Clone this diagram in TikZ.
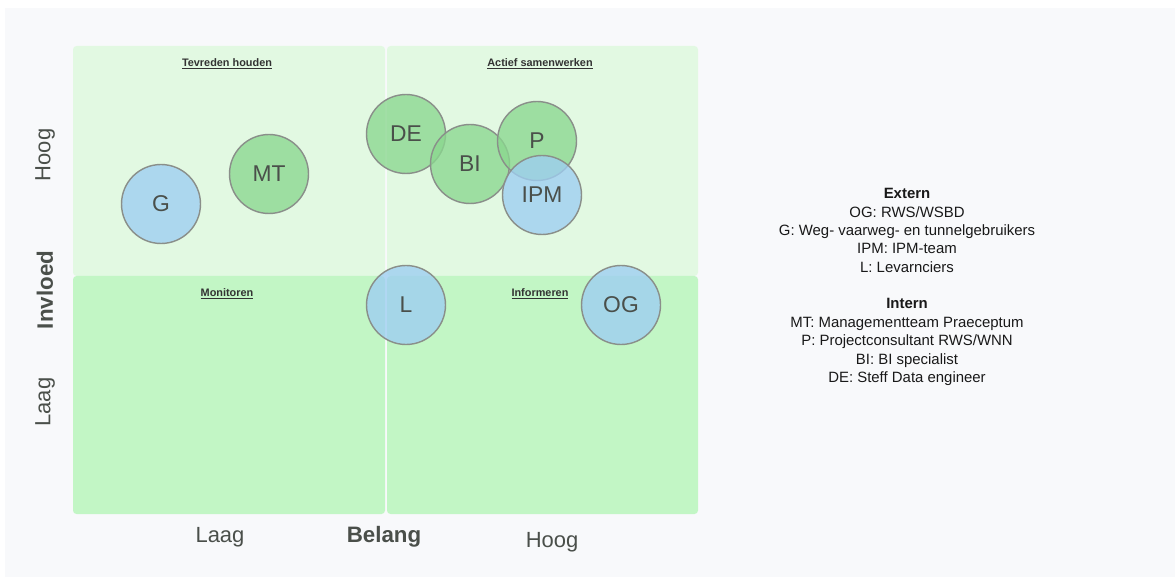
\documentclass[tikz,border=0pt]{standalone}
\usepackage{fontspec}
\setmainfont{Liberation Sans}
\usepackage{tikz}
\usetikzlibrary{positioning}

\definecolor{pagebg}{HTML}{F8F9FB}
\definecolor{hoogkw}{HTML}{E2F9E2}
\definecolor{laagkw}{HTML}{C2F6C5}
\definecolor{intgroen}{HTML}{8AD78F}
\definecolor{extblauw}{HTML}{9ECEF2}
\definecolor{randgrijs}{HTML}{8A8F8A}
\definecolor{tekstgrijs}{HTML}{4A4F4A}

\tikzset{
  partij/.style={circle, draw=randgrijs, line width=0.8pt, minimum size=1.58cm,
    inner sep=0pt, fill opacity=0.78, text opacity=1, text=tekstgrijs,
    font=\fontsize{13}{13}\selectfont},
  intern/.style={partij, fill=intgroen},
  extern/.style={partij, fill=extblauw},
  kwadrant/.style={rounded corners=2pt},
  kwtitel/.style={font=\bfseries\fontsize{6.2}{6.2}\selectfont, text=black!80},
  as/.style={text=tekstgrijs, font=\fontsize{12.5}{12.5}\selectfont},
  astitel/.style={text=tekstgrijs, font=\bfseries\fontsize{12.7}{12.7}\selectfont}
}

\begin{document}
\begin{tikzpicture}[x=0.02cm,y=-0.02cm]
\useasboundingbox (0,0) rectangle (1175,577);
\fill [white] (0,0) rectangle (1175,577);
\fill [pagebg] (5,8) rectangle (1175,577);
% kwadranten
\fill [kwadrant, hoogkw] (73,46) rectangle (385,276);
\fill [kwadrant, hoogkw] (387,46) rectangle (698,276);
\fill [kwadrant, laagkw] (73,276) rectangle (385,514);
\fill [kwadrant, laagkw] (387,276) rectangle (698,514);
\node [kwtitel] (tevreden) at (227,64) {\underline{Tevreden houden}};
\node [kwtitel] (actief) at (540,64) {\underline{Actief samenwerken}};
\node [kwtitel] (monitoren) at (227,294) {\underline{Monitoren}};
\node [kwtitel] (informeren) at (540,294) {\underline{Informeren}};
% assen
\node [as, rotate=90] (invhoog) at (45,155) {Hoog};
\node [astitel, rotate=90] (invloed) at (45,290) {Invloed};
\node [as, rotate=90] (invlaag) at (45,402) {Laag};
\node [as] (belaag) at (220,537) {Laag};
\node [astitel] (belang) at (384,537) {Belang};
\node [as] (behoog) at (552,542) {Hoog};
% partijen
\node [extern] (G) at (161,204) {G};
\node [intern] (MT) at (269,174) {MT};
\node [intern] (DE) at (406,134) {DE};
\node [intern] (BI) at (470,164) {BI};
\node [intern] (P) at (537,141) {P};
\node [extern] (IPM) at (542,195) {IPM};
\node [extern] (L) at (406,305) {L};
\node [extern] (OG) at (621,305) {OG};
% legenda
\node [align=center, text=black!90, font=\fontsize{8.5}{10.45}\selectfont] (legenda) at (907,287)
  {\textbf{Extern}\\ OG: RWS/WSBD\\ G: Weg- vaarweg- en tunnelgebruikers\\ IPM: IPM-team\\ L: Levarnciers\\[10.45pt]
   \textbf{Intern}\\ MT: Managementteam Praeceptum\\ P: Projectconsultant RWS/WNN\\ BI: BI specialist\\ DE: Steff Data engineer};
\end{tikzpicture}
\end{document}
